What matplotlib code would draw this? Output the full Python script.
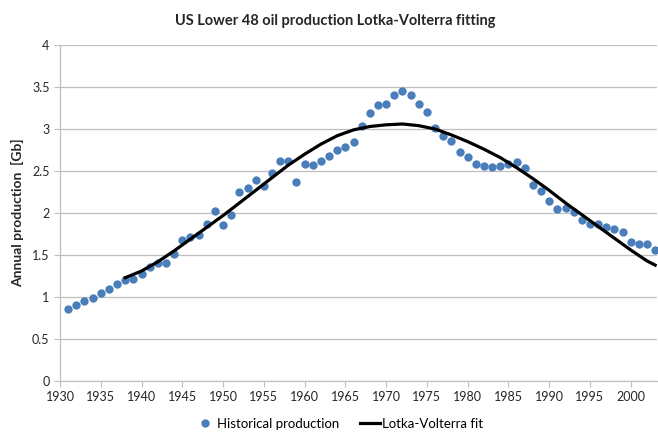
"""US Lower 48 oil production with a Lotka-Volterra fit."""

import matplotlib
matplotlib.use("Agg")
import matplotlib.pyplot as plt
from matplotlib.lines import Line2D

plt.rcParams["font.family"] = ["Lato", "DejaVu Sans"]

# Historical production [Gb], one point per year.
years = list(range(1931, 2004))
production = [
    0.861, 0.900, 0.952, 0.990, 1.051, 1.100, 1.155, 1.202, 1.210, 1.274,
    1.361, 1.400, 1.400, 1.512, 1.678, 1.720, 1.735, 1.875, 2.027, 1.855,
    1.980, 2.252, 2.303, 2.392, 2.318, 2.480, 2.619, 2.619, 2.370, 2.578,
    2.572, 2.623, 2.683, 2.750, 2.790, 2.841, 3.036, 3.194, 3.282, 3.300,
    3.408, 3.456, 3.405, 3.300, 3.200, 3.012, 2.920, 2.853, 2.726, 2.663,
    2.587, 2.556, 2.552, 2.560, 2.583, 2.607, 2.532, 2.332, 2.262, 2.143,
    2.044, 2.063, 2.016, 1.917, 1.865, 1.865, 1.837, 1.813, 1.778, 1.651,
    1.631, 1.631, 1.556,
]

# Lotka-Volterra fit [Gb].
fit_years = [1938, 1940, 1942, 1944, 1946, 1948, 1950, 1952, 1954, 1956,
             1958, 1960, 1962, 1964, 1966, 1968, 1970, 1972, 1974, 1976,
             1978, 1980, 1982, 1984, 1986, 1988, 1990, 1992, 1994, 1996,
             1998, 2000, 2002, 2003]
fit_values = [1.23, 1.31, 1.42, 1.55, 1.69, 1.83, 1.97, 2.12, 2.27, 2.42,
              2.57, 2.70, 2.82, 2.92, 2.99, 3.03, 3.05, 3.06, 3.04, 3.00,
              2.93, 2.85, 2.76, 2.66, 2.54, 2.41, 2.27, 2.12, 1.98, 1.84,
              1.70, 1.56, 1.43, 1.38]

x_ticks = list(range(1930, 2001, 5))
y_ticks = [0, 0.5, 1, 1.5, 2, 2.5, 3, 3.5, 4]

BLUE = "#4a7ebb"
GRID = "#bfbfbf"
TEXT = "#262626"

fig = plt.figure(figsize=(6.58, 4.37), dpi=100)
ax = fig.add_axes([0.0912, 0.128, 0.907, 0.769])

ax.plot(years, production, linestyle="none", marker="o", markersize=6,
        color=BLUE, markeredgewidth=0, zorder=3)
ax.plot(fit_years, fit_values, color="black", linewidth=2.3, zorder=4)

ax.set_xlim(1930, 2003.2)
ax.set_ylim(0, 4)
ax.set_xticks(x_ticks)
ax.set_yticks(y_ticks)
ax.set_yticklabels([f"{v:g}" for v in y_ticks])
ax.tick_params(axis="both", labelsize=9, colors=GRID, labelcolor=TEXT,
               length=4, width=0.8)
ax.grid(True, axis="y", color=GRID, linewidth=0.9)
ax.set_axisbelow(True)
for side in ("top", "right"):
    ax.spines[side].set_visible(False)
for side in ("left", "bottom"):
    ax.spines[side].set_color(GRID)
    ax.spines[side].set_linewidth(0.9)

ax.set_ylabel("Annual production  [Gb]", fontsize=10, fontweight="bold",
              color=TEXT, labelpad=6)
fig.text(0.51, 0.953, "US Lower 48 oil production Lotka-Volterra fitting",
         ha="center", va="center", fontsize=10.5, fontweight="bold", color=TEXT)

handles = [
    Line2D([], [], linestyle="none", marker="o", markersize=6, color=BLUE,
           markeredgewidth=0, label="Historical production"),
    Line2D([], [], color="black", linewidth=2.3, label="Lotka-Volterra fit"),
]
fig.legend(handles=handles, loc="center", bbox_to_anchor=(0.515, 0.03),
           ncol=2, frameon=False, fontsize=9.5, handlelength=1.5,
           handletextpad=0.15, columnspacing=1.6)

fig.savefig("out.png", dpi=100)
